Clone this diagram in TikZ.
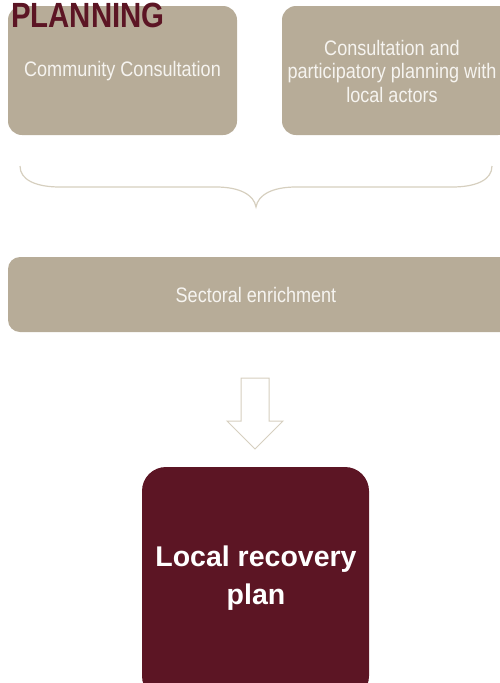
\documentclass[tikz,border=0pt]{standalone}
\usepackage{fontspec}
\setmainfont{Liberation Sans}
\newfontfamily\narrowfont[FakeStretch=0.86]{Liberation Sans}
\newfontfamily\headfont[FakeStretch=0.84]{Liberation Sans}
\definecolor{sand}{RGB}{183,172,152}
\definecolor{wine}{RGB}{92,21,36}
\definecolor{paleline}{RGB}{214,207,191}
\definecolor{softwhite}{RGB}{246,244,240}
\begin{document}
\begin{tikzpicture}[x=1pt,y=-1pt,
  boxtext/.style={text=softwhite, font=\narrowfont\fontsize{21}{23.5}\selectfont, align=center},
  outline/.style={draw=paleline, line width=1pt}]
\useasboundingbox (0,0) rectangle (500,683);
% upper input boxes
\fill[sand, rounded corners=14pt] (8,6) rectangle (237,135);
\node[boxtext] (cc) at (122.5,71) {Community Consultation};
\fill[sand, rounded corners=14pt] (282,6) rectangle (512,135);
\node[boxtext] (cp) at (392,71) {Consultation and\\participatory planning with\\local actors};
% heading
\node[anchor=base west, inner sep=0pt, text=wine,
  font=\headfont\bfseries\fontsize{35}{40}\selectfont] (title) at (11,27.5) {PLANNING};
% brace gathering both inputs
\coordinate (bl) at (20,166);
\coordinate (tip) at (256,207);
\coordinate (br) at (492,166);
\draw[outline, line width=1.2pt] (bl) .. controls (20,180) and (36,187) .. (60,187) -- (216,187)
  .. controls (240,187) and (254,195) .. (tip)
  .. controls (258,195) and (272,187) .. (296,187) -- (452,187)
  .. controls (476,187) and (492,180) .. (br);
% sectoral enrichment band
\fill[sand, rounded corners=12pt] (8,257) rectangle (512,332);
\node[boxtext] (se) at (256,295) {Sectoral enrichment};
% block arrow
\draw[outline, fill=white, line join=miter]
  (241,378) -- (269,378) -- (269,421) -- (283,421) -- (255,449) -- (227,421) -- (241,421) -- cycle;
\coordinate (arrowtip) at (255,449);
% result box
\fill[wine, rounded corners=24pt] (142,467) rectangle (369,700);
\node[text=white, font=\bfseries\fontsize{28.5}{38}\selectfont, align=center] (plan) at (256,578)
  {Local recovery\\plan};
\end{tikzpicture}
\end{document}
